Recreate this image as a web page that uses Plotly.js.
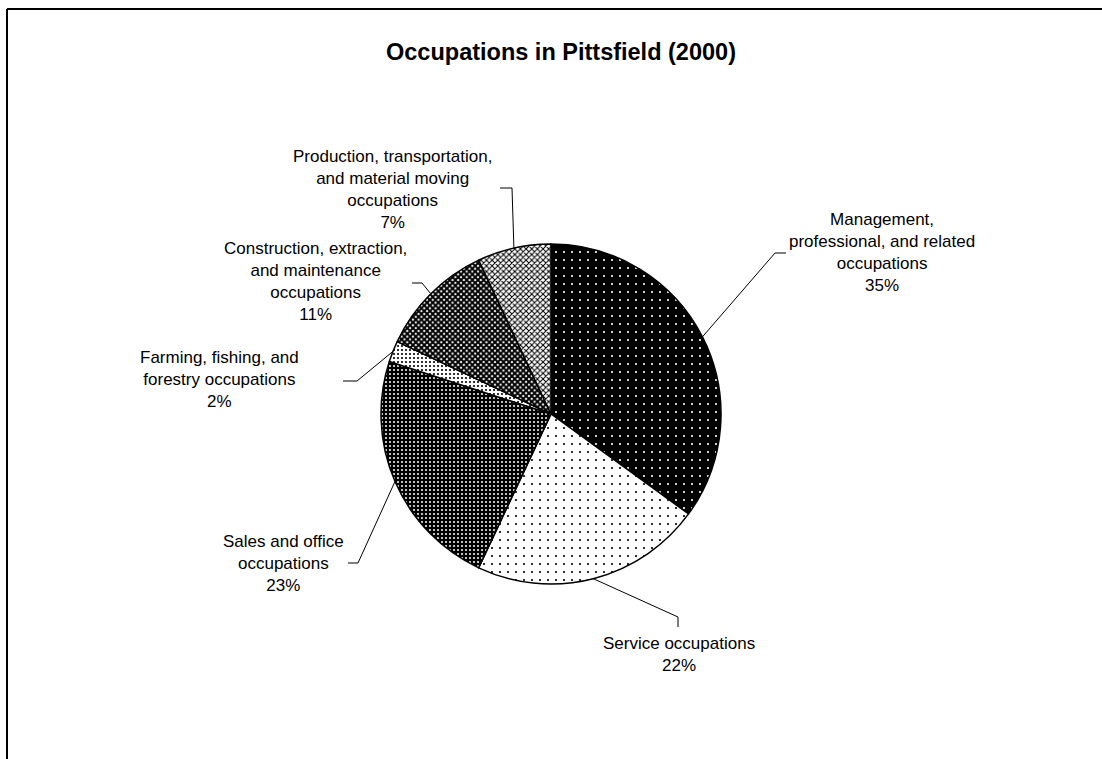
<!DOCTYPE html>
<html>
<head>
<meta charset="utf-8">
<script src="https://cdn.plot.ly/plotly-3.0.1.min.js"></script>
<style>
  html, body { margin: 0; padding: 0; background: #fff; }
  #chart { width: 1102px; height: 759px; }
</style>
</head>
<body>
<div id="chart"></div>
<script>
// Occupation groups, in clockwise order from 12 o'clock
const categories = [
  "Management, professional, and related occupations",
  "Service occupations",
  "Sales and office occupations",
  "Farming, fishing, and forestry occupations",
  "Construction, extraction, and maintenance occupations",
  "Production, transportation, and material moving occupations"
];
// Share of employed residents, percent
const shares = [35, 22, 23, 2, 11, 7];
// Wrapped label text for each group
const labelText = [
  "Management,<br>professional, and related<br>occupations",
  "Service occupations",
  "Sales and office<br>occupations",
  "Farming, fishing, and<br>forestry occupations",
  "Construction, extraction,<br>and maintenance<br>occupations",
  "Production, transportation,<br>and material moving<br>occupations"
];

// Fill patterns for the slices
const patShape = [".", ".", ".", ".", "x", "x"];
const patBg    = ["#000000", "#ffffff", "#000000", "#ffffff", "#ffffff", "#ffffff"];
const patFg    = ["#ffffff", "#000000", "#ffffff", "#000000", "#000000", "#000000"];
const patSize  = [8, 8, 4, 4, 4, 4];
const patSolid = [0.06, 0.06, 0.2, 0.22, 0.75, 0.45];

// Page geometry (px)
const W = 1102, H = 759;
const cx = 551, cy = 414, R = 170;
const FONT = "Arial, 'Liberation Sans', sans-serif";

const px = x => x / W;
const py = y => 1 - y / H;

// Label placement: text block centre and leader line elbow(s)
const labelPos = [
  { x: 882, y: 252, elbow: [[775, 253], [786, 253]] },
  { x: 679, y: 654, elbow: [[678, 617], [678, 627]] },
  { x: 283, y: 563, elbow: [[358, 563], [348, 563]] },
  { x: 219, y: 379, elbow: [[357, 381], [343, 381]] },
  { x: 315, y: 281, elbow: [[422, 283], [412, 283]] },
  { x: 392, y: 190, elbow: [[512, 188], [500, 188]] }
];

const total = shares.reduce((a, b) => a + b, 0);
const annotations = [];
const shapes = [];

// Leader lines start at the outer edge of each slice's middle
let cum = 0;
shares.forEach((v, i) => {
  const theta = 2 * Math.PI * (cum + v / 2) / total;
  cum += v;
  const ex = cx + R * Math.sin(theta);
  const ey = cy - R * Math.cos(theta);
  const pts = [[ex, ey]].concat(labelPos[i].elbow);
  const path = pts.map((p, k) => (k ? "L" : "M") + px(p[0]) + "," + py(p[1])).join(" ");
  shapes.push({
    type: "path", xref: "paper", yref: "paper", path: path,
    line: { color: "#000", width: 1 }
  });
  annotations.push({
    xref: "paper", yref: "paper",
    x: px(labelPos[i].x), y: py(labelPos[i].y),
    xanchor: "center", yanchor: "middle", align: "center",
    showarrow: false,
    text: labelText[i] + "<br>" + shares[i] + "%",
    font: { family: FONT, size: 17, color: "#000" }
  });
});

// Chart title
annotations.push({
  xref: "paper", yref: "paper", x: px(561), y: py(52),
  xanchor: "center", yanchor: "middle", showarrow: false,
  text: "<b>Occupations in Pittsfield (2000)</b>",
  font: { family: FONT, size: 23.5, color: "#000" }
});

// Outer frame (top and left edges)
shapes.push({ type: "line", xref: "paper", yref: "paper",
  x0: px(7), y0: py(9), x1: 1, y1: py(9), line: { color: "#000", width: 2 } });
shapes.push({ type: "line", xref: "paper", yref: "paper",
  x0: px(7), y0: py(9), x1: px(7), y1: 0, line: { color: "#000", width: 2 } });

const trace = {
  type: "pie",
  labels: categories,
  values: shares,
  sort: false,
  direction: "clockwise",
  rotation: 0,
  textinfo: "none",
  hoverinfo: "label+percent",
  showlegend: false,
  domain: { x: [px(cx - R), px(cx + R)], y: [py(cy + R), py(cy - R)] },
  marker: {
    colors: patBg,
    line: { color: "#000", width: 1.5 },
    pattern: {
      shape: patShape,
      bgcolor: patBg,
      fgcolor: patFg,
      size: patSize,
      solidity: patSolid,
      fillmode: "replace"
    }
  }
};

const layout = {
  width: W, height: H,
  margin: { l: 0, r: 0, t: 0, b: 0 },
  paper_bgcolor: "#fff",
  plot_bgcolor: "#fff",
  font: { family: FONT, color: "#000" },
  showlegend: false,
  annotations: annotations,
  shapes: shapes
};

Plotly.newPlot("chart", [trace], layout, { displayModeBar: false, staticPlot: true });
</script>
</body>
</html>
